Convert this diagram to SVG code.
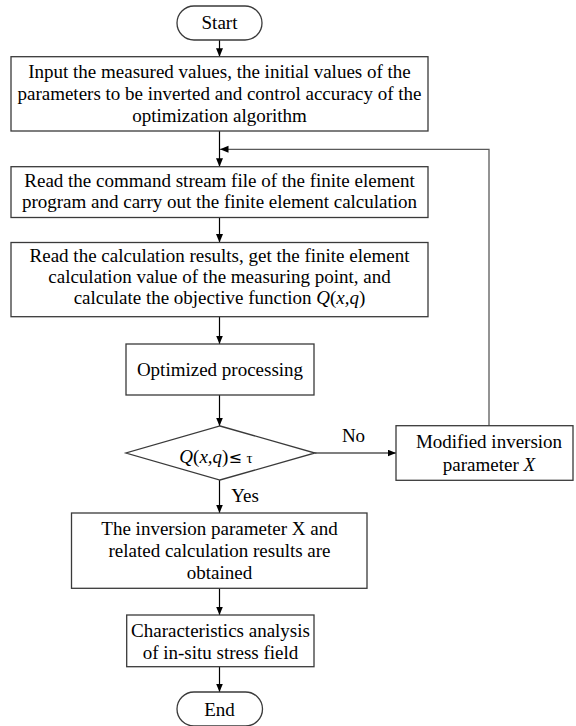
<svg xmlns="http://www.w3.org/2000/svg" width="576" height="726" viewBox="0 0 576 726">
<defs>
<marker id="arr" markerUnits="userSpaceOnUse" markerWidth="9" markerHeight="8" refX="8.5" refY="3.5" orient="auto">
<path d="M0,0 L8.5,3.5 L0,7 z" fill="#000"/>
</marker>
<style>
.box{fill:#fff;stroke:#3a3a3a;stroke-width:1.3}
.t{font-family:"Liberation Serif","Times New Roman",serif;font-size:19px;fill:#000;text-anchor:middle}
.i{font-style:italic}
.c{fill:none;stroke:#000;stroke-width:1.2}
.loop{fill:none;stroke:#5a5a5a;stroke-width:1.3}
</style>
</defs>
<rect width="576" height="726" fill="#fff"/>

<g id="connectors">
<line class="c" x1="219.5" y1="40" x2="219.5" y2="56.7" marker-end="url(#arr)"/>
<line class="c" x1="219.5" y1="131" x2="219.5" y2="166.7" marker-end="url(#arr)"/>
<line class="c" x1="219.5" y1="217.5" x2="219.5" y2="242.5" marker-end="url(#arr)"/>
<line class="c" x1="219.5" y1="316.7" x2="219.5" y2="344" marker-end="url(#arr)"/>
<line class="c" x1="219.5" y1="395" x2="219.5" y2="426" marker-end="url(#arr)"/>
<line class="c" x1="315" y1="453" x2="396" y2="453" marker-end="url(#arr)"/>
<polyline class="loop" points="489,425.7 489,149.3 220,149.3" marker-end="url(#arr)"/>
<line class="c" x1="219.5" y1="480" x2="219.5" y2="513" marker-end="url(#arr)"/>
<line class="c" x1="219.5" y1="588.3" x2="219.5" y2="615" marker-end="url(#arr)"/>
<line class="c" x1="219.5" y1="666.7" x2="219.5" y2="692" marker-end="url(#arr)"/>
<text class="t" x="353.5" y="441.7">No</text>
<text class="t" x="245" y="501.7">Yes</text>
</g>

<g id="start">
<rect class="box" x="177" y="6" width="85" height="34" rx="17" ry="17"/>
<text class="t" x="219.5" y="29">Start</text>
</g>

<g id="input">
<rect class="box" x="11" y="56.7" width="417" height="74.3"/>
<text class="t" x="219.5" y="77.5">Input the measured values, the initial values of the</text>
<text class="t" x="219.5" y="99.5">parameters to be inverted and control accuracy of the</text>
<text class="t" x="219.5" y="121.5">optimization algorithm</text>
</g>

<g id="read-command">
<rect class="box" x="11" y="166.7" width="417" height="50.8"/>
<text class="t" x="219.5" y="186.5">Read the command stream file of the finite element</text>
<text class="t" x="219.5" y="208">program and carry out the finite element calculation</text>
</g>

<g id="read-results">
<rect class="box" x="11" y="242.5" width="417" height="74.2"/>
<text class="t" x="219.5" y="262">Read the calculation results, get the finite element</text>
<text class="t" x="219.5" y="283">calculation value of the measuring point, and</text>
<text class="t" x="219.5" y="304">calculate the objective function <tspan class="i">Q</tspan>(<tspan class="i">x,q</tspan>)</text>
</g>

<g id="optimized">
<rect class="box" x="126" y="344" width="188" height="51"/>
<text class="t" x="220" y="376">Optimized processing</text>
</g>

<g id="decision">
<polygon class="box" points="220,426 315,453 220,480 126,453"/>
<text class="t" x="216" y="463"><tspan class="i">Q</tspan>(<tspan class="i">x,q</tspan>)<tspan font-family="DejaVu Sans, sans-serif" font-size="16">≤</tspan> <tspan font-size="15">τ</tspan></text>
</g>

<g id="modify">
<rect class="box" x="396" y="425.7" width="177" height="54.6"/>
<text class="t" x="489" y="447.5">Modified inversion</text>
<text class="t" x="489" y="471">parameter <tspan class="i">X</tspan></text>
</g>

<g id="obtained">
<rect class="box" x="71.5" y="513" width="295.5" height="75.3"/>
<text class="t" x="219.5" y="535">The inversion parameter X and</text>
<text class="t" x="219.5" y="557">related calculation results are</text>
<text class="t" x="219.5" y="579">obtained</text>
</g>

<g id="analysis">
<rect class="box" x="126.7" y="615" width="187.3" height="51.7"/>
<text class="t" x="220.5" y="637">Characteristics analysis</text>
<text class="t" x="220.5" y="659">of in-situ stress field</text>
</g>

<g id="end">
<rect class="box" x="177" y="692" width="85.5" height="34" rx="17" ry="17"/>
<text class="t" x="219.5" y="716">End</text>
</g>
</svg>
